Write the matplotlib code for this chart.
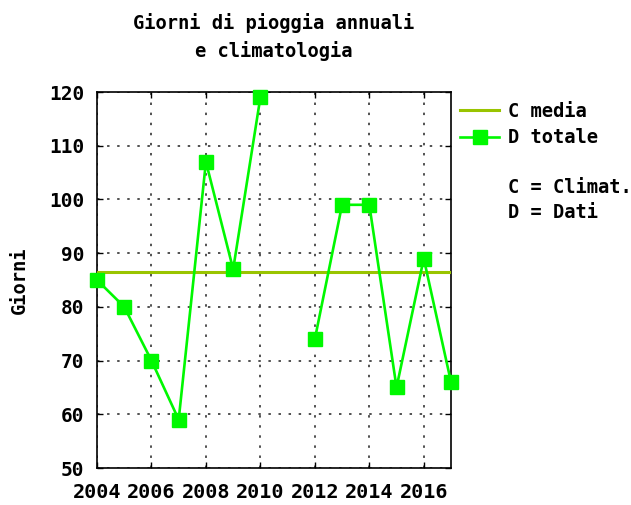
import matplotlib
matplotlib.use("Agg")
import matplotlib.pyplot as plt
import numpy as np

# Annual rainy days and climatological mean
years = [2004, 2005, 2006, 2007, 2008, 2009, 2010, 2011, 2012, 2013, 2014, 2015, 2016, 2017]
rain_days = [85, 80, 70, 59, 107, 87, 119, np.nan, 74, 99, 99, 65, 89, 66]
clim_mean = 86.4

x_ticks = [2004, 2006, 2008, 2010, 2012, 2014, 2016]
y_ticks = [50, 60, 70, 80, 90, 100, 110, 120]

FONT = "DejaVu Sans Mono"
plt.rcParams["font.family"] = [FONT]
plt.rcParams["font.weight"] = "bold"

fig = plt.figure(figsize=(6.31, 5.05), dpi=100)
ax = fig.add_axes([97 / 631, 37 / 505, 354 / 631, 376 / 505])

clim_line, = ax.plot([2004, 2017], [clim_mean, clim_mean], color="#99c400", lw=2.2,
                     label="C media", zorder=3)
data_line, = ax.plot(years, rain_days, color="#00f800", lw=1.9, marker="s",
                     markersize=10.5, label="D totale", clip_on=False, zorder=4)

ax.set_xlim(2004, 2017)
ax.set_ylim(50, 120)
ax.set_xticks(x_ticks)
ax.set_yticks(y_ticks)
ax.set_xticklabels([str(v) for v in x_ticks], fontsize=14.5, fontweight="bold")
ax.set_yticklabels([str(v) for v in y_ticks], fontsize=14, fontweight="bold")
ax.tick_params(direction="in", length=4, width=1, top=True, right=True)
ax.tick_params(axis="y", pad=9)
ax.tick_params(axis="x", pad=11)
ax.grid(True, color="#222222", linestyle=(0, (1.6, 5)), linewidth=1.1)
for s in ax.spines.values():
    s.set_linewidth(1.2)

ax.set_ylabel("Giorni", fontsize=13.5, fontweight="bold")
ax.yaxis.set_label_coords((29 - 97) / 354, 0.5)
ax.set_title("Giorni di pioggia annuali\ne climatologia", fontsize=13.5,
             fontweight="bold", pad=25, linespacing=1.5)

leg = ax.legend(handles=[clim_line, data_line], loc="upper left",
                bbox_to_anchor=(460 / 631, 1 - 102 / 505), bbox_transform=fig.transFigure,
                frameon=False, fontsize=13.5, handlelength=2.1, handletextpad=0.45,
                labelspacing=0.38, borderpad=0, borderaxespad=0)
for t in leg.get_texts():
    t.set_fontweight("bold")

fig.text(508 / 631, 1 - 200 / 505, "C = Climat.\nD = Dati", fontsize=13.5,
         fontweight="bold", va="center", ha="left", linespacing=1.45)

fig.savefig("out.png", dpi=100)
